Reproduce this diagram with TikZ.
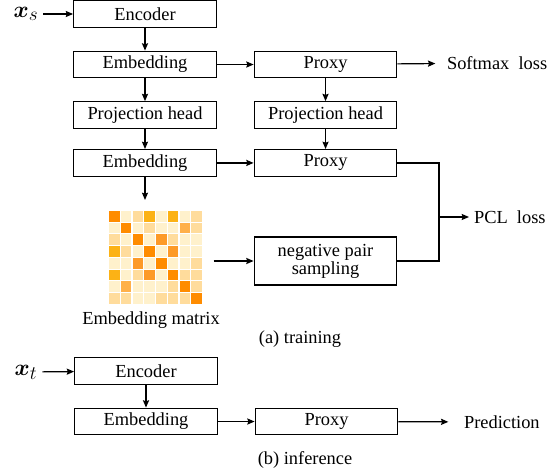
\documentclass[tikz,border=0pt]{standalone}
\usepackage{amsmath}
\usepackage{fontspec}
\setmainfont{Liberation Serif}
\usepackage{tikz}
\usetikzlibrary{arrows,arrows.meta,positioning}

\definecolor{lvl0}{HTML}{FFF1CC}
\definecolor{lvl1}{HTML}{FFDC9C}
\definecolor{lvl2}{HTML}{FFB04A}
\definecolor{lvl3}{HTML}{FCB215}
\definecolor{lvl4}{HTML}{FD9A28}
\definecolor{lvl5}{HTML}{FF8C00}

\begin{document}
\begin{tikzpicture}[x=0.75pt,y=-0.75pt,->,>={Stealth[length=5.5pt,width=4.6pt,inset=0.8pt]},
										line width=0.9pt,node distance=17pt and 27.5pt,
										font=\fontsize{13.8}{15}\selectfont]
	\tikzstyle{block}=[draw=black,minimum width=107pt,minimum height=20pt,inner sep=0pt]
	\tikzstyle{inp}=[font=\fontsize{19}{21}\selectfont]

	\useasboundingbox (0,0) rectangle (560,473);

	% (a) training
	\node[inp]   (xs)   at (26,14)           {$\boldsymbol{x}_s$};
	\node[block] (enc)  at (145,14)          {Encoder};
	\node[block] (emb)  [below=of enc]       {Embedding};
	\node[block] (proj) [below=of emb]       {Projection head};
	\node[block] (emb2) [below=15pt of proj] {Embedding};

	\node[block] (proxy)  [right=of emb]  {Proxy};
	\node[block] (projr)  [right=of proj] {Projection head};
	\node[block] (proxy2) [right=of emb2] {Proxy};
	\node[block,minimum height=36pt,align=center] (neg) at (325.5,261)
		{negative pair\\[-1.5pt]sampling};

	\node[anchor=west] (soft) at (442,63)  {Softmax\ \ loss};
	\node[anchor=west] (pcl)  at (469,217) {PCL\ \ loss};

	% embedding matrix
	\node[minimum size=70.5pt,inner sep=0pt] (mat) at (156,258) {};
	\begin{scope}[shift={(mat.north west)},-]
		\foreach \row [count=\i] in {{5,0,1,3,0,3,0,1},{0,5,0,1,0,0,2,1},
				{1,0,5,0,4,1,0,0},{3,1,0,5,0,4,0,0},{0,0,4,0,5,0,0,1},
				{3,0,1,4,0,5,1,1},{0,2,0,0,0,1,5,1},{1,1,0,0,1,1,1,5}}
			\foreach \v [count=\j] in \row
				\fill[lvl\v] ({(\j-1)*11.75+0.6},{(\i-1)*11.75+0.6}) rectangle ++(10.6,10.6);
	\end{scope}
	\node (matlbl) at (151,320) {Embedding matrix};
	\coordinate (matin) at (145,200);

	\node (capa) at (300,339) {(a) training};

	\draw (xs) -- (enc);
	\draw (enc) -- (emb);
	\draw (emb) -- (proj);
	\draw (proj) -- (emb2);
	\draw (emb2) -- (matin);
	\draw (emb) -- (proxy);
	\draw (proxy) -- (projr);
	\draw (projr) -- (proxy2);
	\draw (emb2) -- (proxy2);
	\draw[shorten >=5pt] (proxy) -- (soft);
	\draw[shorten <=7.5pt] (mat.east |- neg) -- (neg);

	\coordinate (join) at (439,217);
	\draw[-] (proxy2.east) -| (join);
	\draw[-] (neg.east) -| (join);
	\draw (join) -- (pcl);

	% (b) inference
	\node[inp]   (xt)     at (26,372)        {$\boldsymbol{x}_t$};
	\node[block] (encb)   at (146,371)       {Encoder};
	\node[block] (embb)   [below=of encb]    {Embedding};
	\node[block] (proxyb) [right=of embb]    {Proxy};
	\node[anchor=west] (pred) at (459,422)   {Prediction};
	\node (capb) at (305,460) {(b) inference};

	\draw (xt) -- (encb);
	\draw (encb) -- (embb);
	\draw (embb) -- (proxyb);
	\draw[shorten >=8pt] (proxyb) -- (pred);
\end{tikzpicture}
\end{document}
